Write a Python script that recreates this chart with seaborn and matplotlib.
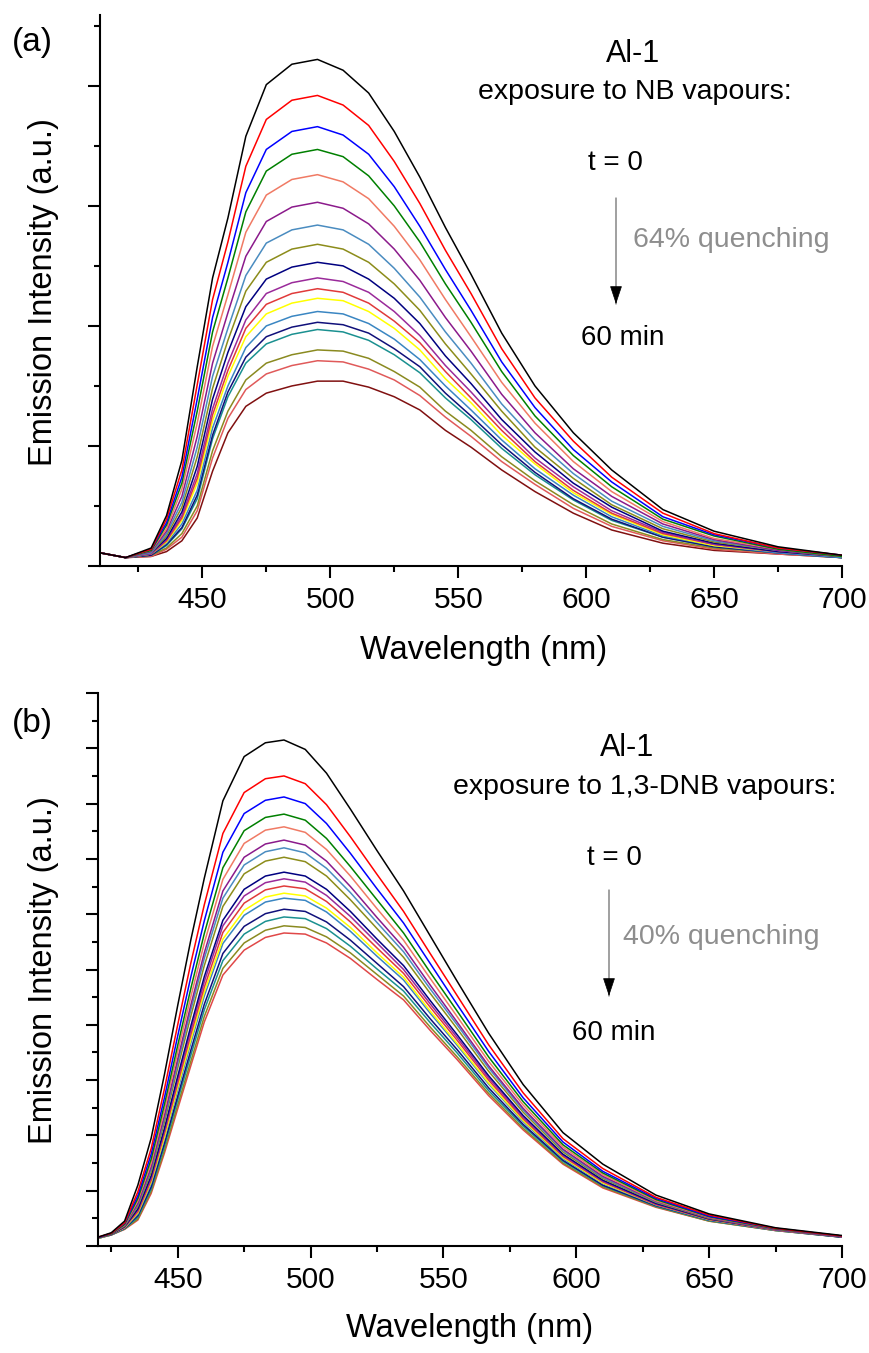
import matplotlib
matplotlib.use("Agg")
import matplotlib.pyplot as plt
from matplotlib.ticker import MultipleLocator
from matplotlib.patches import FancyArrowPatch
import seaborn as sns
import pandas as pd

# ---------------- data: panel (a) NB vapours ----------------
wl_a = [410, 420, 430, 436, 442, 448, 454, 460, 467, 475, 485, 495, 505, 515,
        525, 535, 545, 555, 567, 580, 595, 610, 630, 650, 675, 700]
a1 = [0.11,0.07,0.15,0.42,0.88,1.66,2.40,2.90,3.58,4.01,4.18,4.22,4.13,3.94,3.62,3.24,2.82,2.43,1.94,1.50,1.11,0.80,0.47,0.29,0.16,0.09]
a2 = [0.11,0.07,0.14,0.39,0.80,1.51,2.22,2.70,3.33,3.72,3.88,3.92,3.84,3.67,3.37,3.02,2.63,2.27,1.81,1.40,1.04,0.74,0.44,0.27,0.15,0.09]
a3 = [0.11,0.07,0.14,0.36,0.74,1.39,2.07,2.53,3.11,3.47,3.62,3.66,3.59,3.43,3.16,2.83,2.47,2.13,1.70,1.32,0.97,0.70,0.41,0.26,0.15,0.09]
a4 = [0.11,0.07,0.13,0.34,0.69,1.29,1.95,2.40,2.95,3.29,3.43,3.47,3.41,3.25,3.00,2.70,2.35,2.03,1.62,1.25,0.92,0.66,0.39,0.25,0.14,0.08]
a5 = [0.11,0.07,0.13,0.31,0.64,1.19,1.83,2.26,2.78,3.09,3.22,3.26,3.20,3.06,2.83,2.55,2.22,1.91,1.53,1.19,0.87,0.62,0.37,0.23,0.14,0.08]
a6 = [0.11,0.07,0.12,0.29,0.58,1.08,1.69,2.11,2.58,2.87,2.99,3.03,2.98,2.85,2.64,2.38,2.07,1.79,1.43,1.11,0.81,0.58,0.35,0.22,0.13,0.08]
a7 = [0.11,0.07,0.11,0.27,0.53,0.99,1.58,1.98,2.42,2.69,2.80,2.84,2.80,2.68,2.48,2.24,1.95,1.69,1.35,1.05,0.77,0.54,0.33,0.21,0.13,0.08]
a8 = [0.11,0.07,0.11,0.25,0.49,0.91,1.48,1.88,2.29,2.53,2.64,2.68,2.64,2.53,2.35,2.13,1.85,1.60,1.29,0.99,0.73,0.51,0.31,0.20,0.13,0.08]
a9 = [0.11,0.07,0.11,0.23,0.45,0.83,1.39,1.78,2.16,2.39,2.49,2.53,2.50,2.39,2.23,2.02,1.75,1.52,1.22,0.95,0.69,0.49,0.29,0.19,0.12,0.08]
a10 = [0.11,0.07,0.10,0.22,0.42,0.77,1.31,1.69,2.05,2.27,2.36,2.40,2.37,2.28,2.12,1.92,1.67,1.45,1.17,0.90,0.66,0.46,0.28,0.18,0.12,0.08]
a11 = [0.11,0.07,0.10,0.21,0.40,0.73,1.26,1.63,1.98,2.18,2.27,2.31,2.28,2.19,2.04,1.86,1.62,1.40,1.13,0.87,0.63,0.44,0.27,0.18,0.12,0.08]
a12 = [0.11,0.07,0.10,0.20,0.38,0.69,1.21,1.58,1.91,2.10,2.19,2.23,2.21,2.12,1.98,1.80,1.56,1.36,1.09,0.85,0.61,0.43,0.26,0.17,0.12,0.08]
a13 = [0.11,0.07,0.10,0.19,0.35,0.63,1.15,1.50,1.82,2.00,2.08,2.12,2.10,2.02,1.89,1.72,1.50,1.30,1.05,0.81,0.59,0.41,0.25,0.17,0.11,0.07]
a14 = [0.11,0.07,0.09,0.18,0.32,0.59,1.09,1.45,1.74,1.91,1.99,2.03,2.01,1.94,1.81,1.66,1.44,1.25,1.01,0.78,0.56,0.39,0.24,0.16,0.11,0.07]
a15 = [0.11,0.07,0.09,0.17,0.31,0.56,1.06,1.41,1.69,1.85,1.93,1.97,1.95,1.88,1.76,1.61,1.40,1.22,0.98,0.76,0.55,0.38,0.24,0.16,0.11,0.07]
a16 = [0.11,0.07,0.09,0.15,0.27,0.50,0.96,1.29,1.55,1.69,1.76,1.80,1.79,1.73,1.62,1.49,1.29,1.13,0.91,0.71,0.51,0.35,0.22,0.15,0.11,0.07]
a17 = [0.11,0.07,0.08,0.14,0.24,0.46,0.90,1.23,1.47,1.60,1.67,1.71,1.70,1.64,1.55,1.42,1.24,1.08,0.87,0.68,0.48,0.33,0.21,0.14,0.10,0.07]
a18 = [0.11,0.07,0.08,0.12,0.21,0.40,0.79,1.11,1.33,1.44,1.50,1.54,1.54,1.49,1.41,1.30,1.13,0.99,0.80,0.62,0.44,0.30,0.19,0.13,0.10,0.07]
colors_a = ["#000000", "#ff0000", "#0000ff", "#008000", "#f07a64", "#8b1a8b",
            "#4a8cc0", "#8c8c1a", "#000080", "#9a2a9a", "#e03a3a", "#ffff00",
            "#3a86c2", "#10107a", "#1a9090", "#8a8a20", "#e05a5a", "#801010"]

# ---------------- data: panel (b) 1,3-DNB vapours ----------------
wl_b = [420, 425, 430, 435, 440, 445, 450, 455, 460, 467, 475, 483, 490, 498,
        506, 515, 525, 535, 545, 555, 567, 580, 595, 610, 630, 650, 675, 700]
b1 = [0.16,0.24,0.45,1.10,1.95,3.10,4.35,5.55,6.65,8.05,8.85,9.10,9.15,8.98,8.55,7.90,7.15,6.42,5.61,4.80,3.85,2.92,2.05,1.48,0.92,0.58,0.33,0.19]
b2 = [0.16,0.23,0.42,0.98,1.76,2.84,4.00,5.13,6.17,7.46,8.20,8.45,8.50,8.36,7.98,7.40,6.72,6.05,5.29,4.54,3.64,2.77,1.94,1.40,0.88,0.56,0.32,0.18]
b3 = [0.15,0.23,0.41,0.91,1.66,2.68,3.80,4.88,5.88,7.12,7.82,8.06,8.12,8.00,7.64,7.10,6.46,5.84,5.11,4.38,3.52,2.68,1.88,1.35,0.86,0.54,0.32,0.18]
b4 = [0.15,0.22,0.39,0.86,1.57,2.56,3.63,4.67,5.65,6.84,7.51,7.75,7.81,7.70,7.37,6.86,6.26,5.66,4.95,4.26,3.42,2.61,1.83,1.32,0.84,0.53,0.31,0.18]
b5 = [0.15,0.22,0.38,0.82,1.50,2.46,3.51,4.52,5.48,6.63,7.28,7.52,7.58,7.48,7.17,6.69,6.10,5.53,4.84,4.16,3.34,2.55,1.79,1.29,0.82,0.52,0.31,0.18]
b6 = [0.15,0.22,0.37,0.77,1.43,2.36,3.38,4.37,5.30,6.42,7.03,7.27,7.34,7.25,6.96,6.50,5.94,5.40,4.72,4.06,3.26,2.49,1.75,1.26,0.81,0.51,0.30,0.17]
b7 = [0.15,0.22,0.37,0.75,1.39,2.31,3.31,4.28,5.20,6.29,6.89,7.13,7.20,7.11,6.83,6.39,5.85,5.32,4.65,4.01,3.22,2.46,1.73,1.24,0.80,0.51,0.30,0.17]
b8 = [0.15,0.22,0.36,0.72,1.34,2.24,3.22,4.17,5.07,6.14,6.73,6.96,7.03,6.95,6.69,6.26,5.74,5.22,4.57,3.94,3.16,2.42,1.70,1.22,0.79,0.50,0.30,0.17]
b9 = [0.15,0.21,0.35,0.67,1.27,2.13,3.07,3.99,4.87,5.89,6.45,6.69,6.76,6.69,6.45,6.05,5.55,5.07,4.44,3.83,3.08,2.36,1.66,1.19,0.77,0.49,0.30,0.17]
b10 = [0.15,0.21,0.34,0.65,1.23,2.08,3.01,3.91,4.78,5.79,6.33,6.57,6.64,6.58,6.34,5.96,5.48,5.00,4.38,3.78,3.04,2.33,1.64,1.17,0.76,0.49,0.29,0.17]
b11 = [0.15,0.21,0.34,0.62,1.19,2.03,2.94,3.83,4.68,5.67,6.20,6.44,6.51,6.46,6.23,5.86,5.39,4.93,4.32,3.73,3.00,2.30,1.62,1.16,0.75,0.48,0.29,0.17]
b12 = [0.14,0.21,0.33,0.60,1.16,1.97,2.87,3.74,4.59,5.55,6.07,6.31,6.38,6.33,6.11,5.76,5.30,4.86,4.25,3.67,2.95,2.27,1.60,1.14,0.75,0.48,0.29,0.17]
b13 = [0.14,0.21,0.33,0.58,1.13,1.94,2.82,3.68,4.52,5.47,5.98,6.22,6.29,6.25,6.04,5.69,5.24,4.81,4.21,3.64,2.93,2.25,1.58,1.13,0.74,0.47,0.29,0.17]
b14 = [0.14,0.21,0.32,0.55,1.07,1.86,2.71,3.55,4.37,5.29,5.78,6.01,6.09,6.05,5.86,5.53,5.11,4.69,4.11,3.56,2.86,2.20,1.55,1.10,0.73,0.47,0.29,0.16]
b15 = [0.14,0.20,0.31,0.52,1.03,1.80,2.64,3.46,4.27,5.16,5.64,5.87,5.95,5.92,5.74,5.42,5.01,4.61,4.04,3.50,2.81,2.17,1.53,1.09,0.72,0.46,0.28,0.16]
b16 = [0.14,0.20,0.31,0.49,0.99,1.73,2.55,3.35,4.15,5.02,5.48,5.71,5.79,5.76,5.59,5.30,4.91,4.52,3.96,3.43,2.76,2.13,1.50,1.07,0.71,0.45,0.28,0.16]
b17 = [0.14,0.20,0.30,0.47,0.95,1.68,2.48,3.27,4.05,4.90,5.35,5.58,5.66,5.64,5.48,5.20,4.82,4.45,3.90,3.38,2.72,2.10,1.48,1.05,0.70,0.45,0.28,0.16]
colors_b = ["#000000", "#ff0000", "#0000ff", "#008000", "#f07a64", "#8b1a8b",
            "#4a8cc0", "#8c8c1a", "#000080", "#9a2a9a", "#e03a3a", "#ffff00",
            "#3a86c2", "#10107a", "#1a9090", "#8a8a20", "#e04848"]

series_a = [a1, a2, a3, a4, a5, a6, a7, a8, a9, a10, a11, a12, a13, a14, a15, a16, a17, a18]
series_b = [b1, b2, b3, b4, b5, b6, b7, b8, b9, b10, b11, b12, b13, b14, b15, b16, b17]

sns.set_theme(style="ticks")
plt.rcParams["font.family"] = ["Liberation Sans", "DejaVu Sans"]
plt.rcParams["text.color"] = "black"
plt.rcParams["axes.labelcolor"] = "black"
plt.rcParams["xtick.color"] = "black"
plt.rcParams["ytick.color"] = "black"
plt.rcParams["axes.edgecolor"] = "black"

W, H = 869, 1353
fig = plt.figure(figsize=(W / 100, H / 100), dpi=100)


def fx(px):
    return px / W


def fy(py):
    return 1 - py / H


def make_axes(left, right, top, bottom):
    return fig.add_axes([fx(left), fy(bottom), fx(right - left), (bottom - top) / H])


ax_a = make_axes(100, 842, 15, 566)
ax_b = make_axes(98, 842, 693, 1246)


def draw(ax, wl, series, colors, tag):
    frames = []
    for i, vals in enumerate(series):
        frames.append(pd.DataFrame({"wl": wl, "I": vals, "curve": f"{tag}{i}"}))
    df = pd.concat(frames, ignore_index=True)
    order = [f"{tag}{i}" for i in range(len(series))]
    sns.lineplot(data=df, x="wl", y="I", hue="curve", hue_order=order[::-1],
                 palette=dict(zip(order, colors)), ax=ax, legend=False,
                 linewidth=1.1, estimator=None, sort=False)


draw(ax_a, wl_a, series_a, colors_a, "a")
draw(ax_b, wl_b, series_b, colors_b, "b")

for ax, xl, yl in [(ax_a, (410, 700), (0, 4.59)), (ax_b, (420, 700), (0, 10.0))]:
    ax.set_xlim(*xl)
    ax.set_ylim(*yl)
    ax.xaxis.set_major_locator(MultipleLocator(50))
    ax.xaxis.set_minor_locator(MultipleLocator(25))
    ax.yaxis.set_major_locator(MultipleLocator(1))
    ax.yaxis.set_minor_locator(MultipleLocator(0.5))
    ax.set_yticklabels([])
    ax.tick_params(axis="both", which="major", direction="out", length=8.5,
                   width=1.5, color="black", labelsize=21.5, pad=6,
                   labelcolor="black")
    ax.tick_params(axis="both", which="minor", direction="out", length=4.5,
                   width=1.5, color="black")
    for s in ["top", "right"]:
        ax.spines[s].set_visible(False)
    for s in ["left", "bottom"]:
        ax.spines[s].set_linewidth(1.5)
        ax.spines[s].set_color("black")
    ax.set_xlabel("")
    ax.set_ylabel("")
    ax.set_facecolor("white")
    ax.set_xticks([450, 500, 550, 600, 650, 700])
    ax.set_xticklabels(["450", "500", "550", "600", "650", "700"])

# axis labels
fig.text(fx(484), fy(650), "Wavelength (nm)", ha="center", va="center", fontsize=23.5)
fig.text(fx(470), fy(1328), "Wavelength (nm)", ha="center", va="center", fontsize=23.5)
fig.text(fx(44), fy(292), "Emission Intensity (a.u.)", ha="center", va="center",
         rotation=90, fontsize=23.5)
fig.text(fx(44), fy(970), "Emission Intensity (a.u.)", ha="center", va="center",
         rotation=90, fontsize=23.5)

# panel letters
fig.text(fx(12), fy(43), "(a)", ha="left", va="center", fontsize=24)
fig.text(fx(12), fy(723), "(b)", ha="left", va="center", fontsize=24)

# annotations panel (a)
fig.text(fx(633), fy(54), "Al-1", ha="center", va="center", fontsize=22)
fig.text(fx(635), fy(92), "exposure to NB vapours:", ha="center", va="center", fontsize=20.5)
fig.text(fx(615), fy(163), "t = 0", ha="center", va="center", fontsize=20)
fig.text(fx(633), fy(240), "64% quenching", ha="left", va="center", fontsize=20.5,
         color="#8e8e8e")
fig.text(fx(623), fy(338), "60 min", ha="center", va="center", fontsize=20)

# annotations panel (b)
fig.text(fx(627), fy(748), "Al-1", ha="center", va="center", fontsize=22)
fig.text(fx(645), fy(787), "exposure to 1,3-DNB vapours:", ha="center", va="center",
         fontsize=20.5)
fig.text(fx(614), fy(858), "t = 0", ha="center", va="center", fontsize=20)
fig.text(fx(623), fy(937), "40% quenching", ha="left", va="center", fontsize=20.5,
         color="#8e8e8e")
fig.text(fx(614), fy(1033), "60 min", ha="center", va="center", fontsize=20)

for x, y0, y1 in [(616, 198, 304), (609, 890, 996)]:
    fig.add_artist(FancyArrowPatch(
        (fx(x), fy(y0)), (fx(x), fy(y1)), transform=fig.transFigure,
        arrowstyle="-", color="#7a7a7a", linewidth=1.0, shrinkA=0, shrinkB=0))
    fig.add_artist(FancyArrowPatch(
        (fx(x), fy(y1 - 14)), (fx(x), fy(y1)), transform=fig.transFigure,
        arrowstyle="-|>,head_length=0.9,head_width=0.3", mutation_scale=13,
        color="black", linewidth=0.5, shrinkA=0, shrinkB=0))

fig.savefig("out.png", dpi=100, facecolor="white")
